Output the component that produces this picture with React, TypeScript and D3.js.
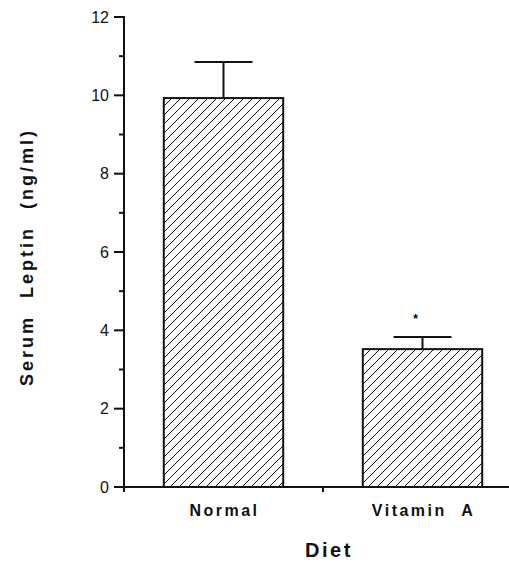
import React from 'react'
import * as d3 from 'd3'

// values
const categories = ['Normal', 'Vitamin A']
const means = [9.93, 3.52]
const errors = [0.92, 0.31]
const marks = ['', '*']
const yTicks = [0, 2, 4, 6, 8, 10, 12]
const yMinorTicks = [1, 3, 5, 7, 9, 11]

const W = 509
const H = 562
const FONT = '"Liberation Sans", Arial, Helvetica, sans-serif'

export default function App() {
  const left = 124
  const y = d3.scaleLinear().domain([0, 12]).range([487, 17])
  const x = d3.scaleBand<string>().domain(categories).range([left, 522]).padding(0)
  const barW = x.bandwidth() * 0.6
  const capW = 58
  const y0 = y(0)

  return (
    <svg
      width={W}
      height={H}
      style={{ position: 'absolute', left: 0, top: 0, background: '#fff' }}
    >
      <defs>
        <pattern id="hatch" patternUnits="userSpaceOnUse" width={9} height={9}>
          <path d="M0,9 L9,0 M-2,2 L2,-2 M7,11 L11,7" stroke="#111" strokeWidth={1} />
        </pattern>
      </defs>

      {/* bars */}
      {categories.map((c, i) => {
        const cx = x(c)! + x.bandwidth() / 2
        return (
          <g key={c}>
            <line x1={cx} x2={cx} y1={y(means[i])} y2={y(means[i] + errors[i])} stroke="#111" strokeWidth={2} />
            <line x1={cx - capW / 2} x2={cx + capW / 2} y1={y(means[i] + errors[i])} y2={y(means[i] + errors[i])} stroke="#111" strokeWidth={2} />
            <rect
              x={cx - barW / 2}
              y={y(means[i])}
              width={barW}
              height={y0 - y(means[i])}
              fill="url(#hatch)"
              stroke="#111"
              strokeWidth={2}
            />
            {marks[i] && (
              <text x={cx - 7} y={y(means[i] + errors[i]) - 14} textAnchor="middle" fontSize={12} fontFamily={FONT} fontWeight="bold">
                {marks[i]}
              </text>
            )}
            <text
              x={cx + 1}
              y={516}
              textAnchor="middle"
              fontSize={16}
              fontWeight="bold"
              fontFamily={FONT}
              letterSpacing={2.5}
              wordSpacing={8}
              fill="#111"
            >
              {c}
            </text>
          </g>
        )
      })}

      {/* y axis */}
      <line x1={left} x2={left} y1={y(12) - 1} y2={y0 + 5} stroke="#111" strokeWidth={2} />
      {yTicks.map(t => (
        <g key={t}>
          <line x1={left - 10} x2={left} y1={y(t)} y2={y(t)} stroke="#111" strokeWidth={2} />
          <text x={left - 15} y={y(t)} dy="0.36em" textAnchor="end" fontSize={16} fontFamily={FONT} fill="#111">
            {t}
          </text>
        </g>
      ))}
      {yMinorTicks.map(t => (
        <line key={t} x1={left - 5} x2={left} y1={y(t)} y2={y(t)} stroke="#111" strokeWidth={2} />
      ))}

      {/* x axis */}
      <line x1={left - 1} x2={W} y1={y0} y2={y0} stroke="#111" strokeWidth={2} />
      {x.domain().slice(1).map(c => (
        <line key={c} x1={x(c)} x2={x(c)} y1={y0} y2={y0 + 5} stroke="#111" strokeWidth={2} />
      ))}

      {/* axis titles */}
      <text
        transform={`translate(33,257) rotate(-90)`}
        textAnchor="middle"
        fontSize={18}
        fontWeight="bold"
        fontFamily={FONT}
        letterSpacing={3}
        wordSpacing={9}
        fill="#111"
      >
        Serum Leptin (ng/ml)
      </text>
      <text x={329} y={557} textAnchor="middle" fontSize={20} fontWeight="bold" fontFamily={FONT} letterSpacing={2.5} fill="#111">
        Diet
      </text>
    </svg>
  )
}
